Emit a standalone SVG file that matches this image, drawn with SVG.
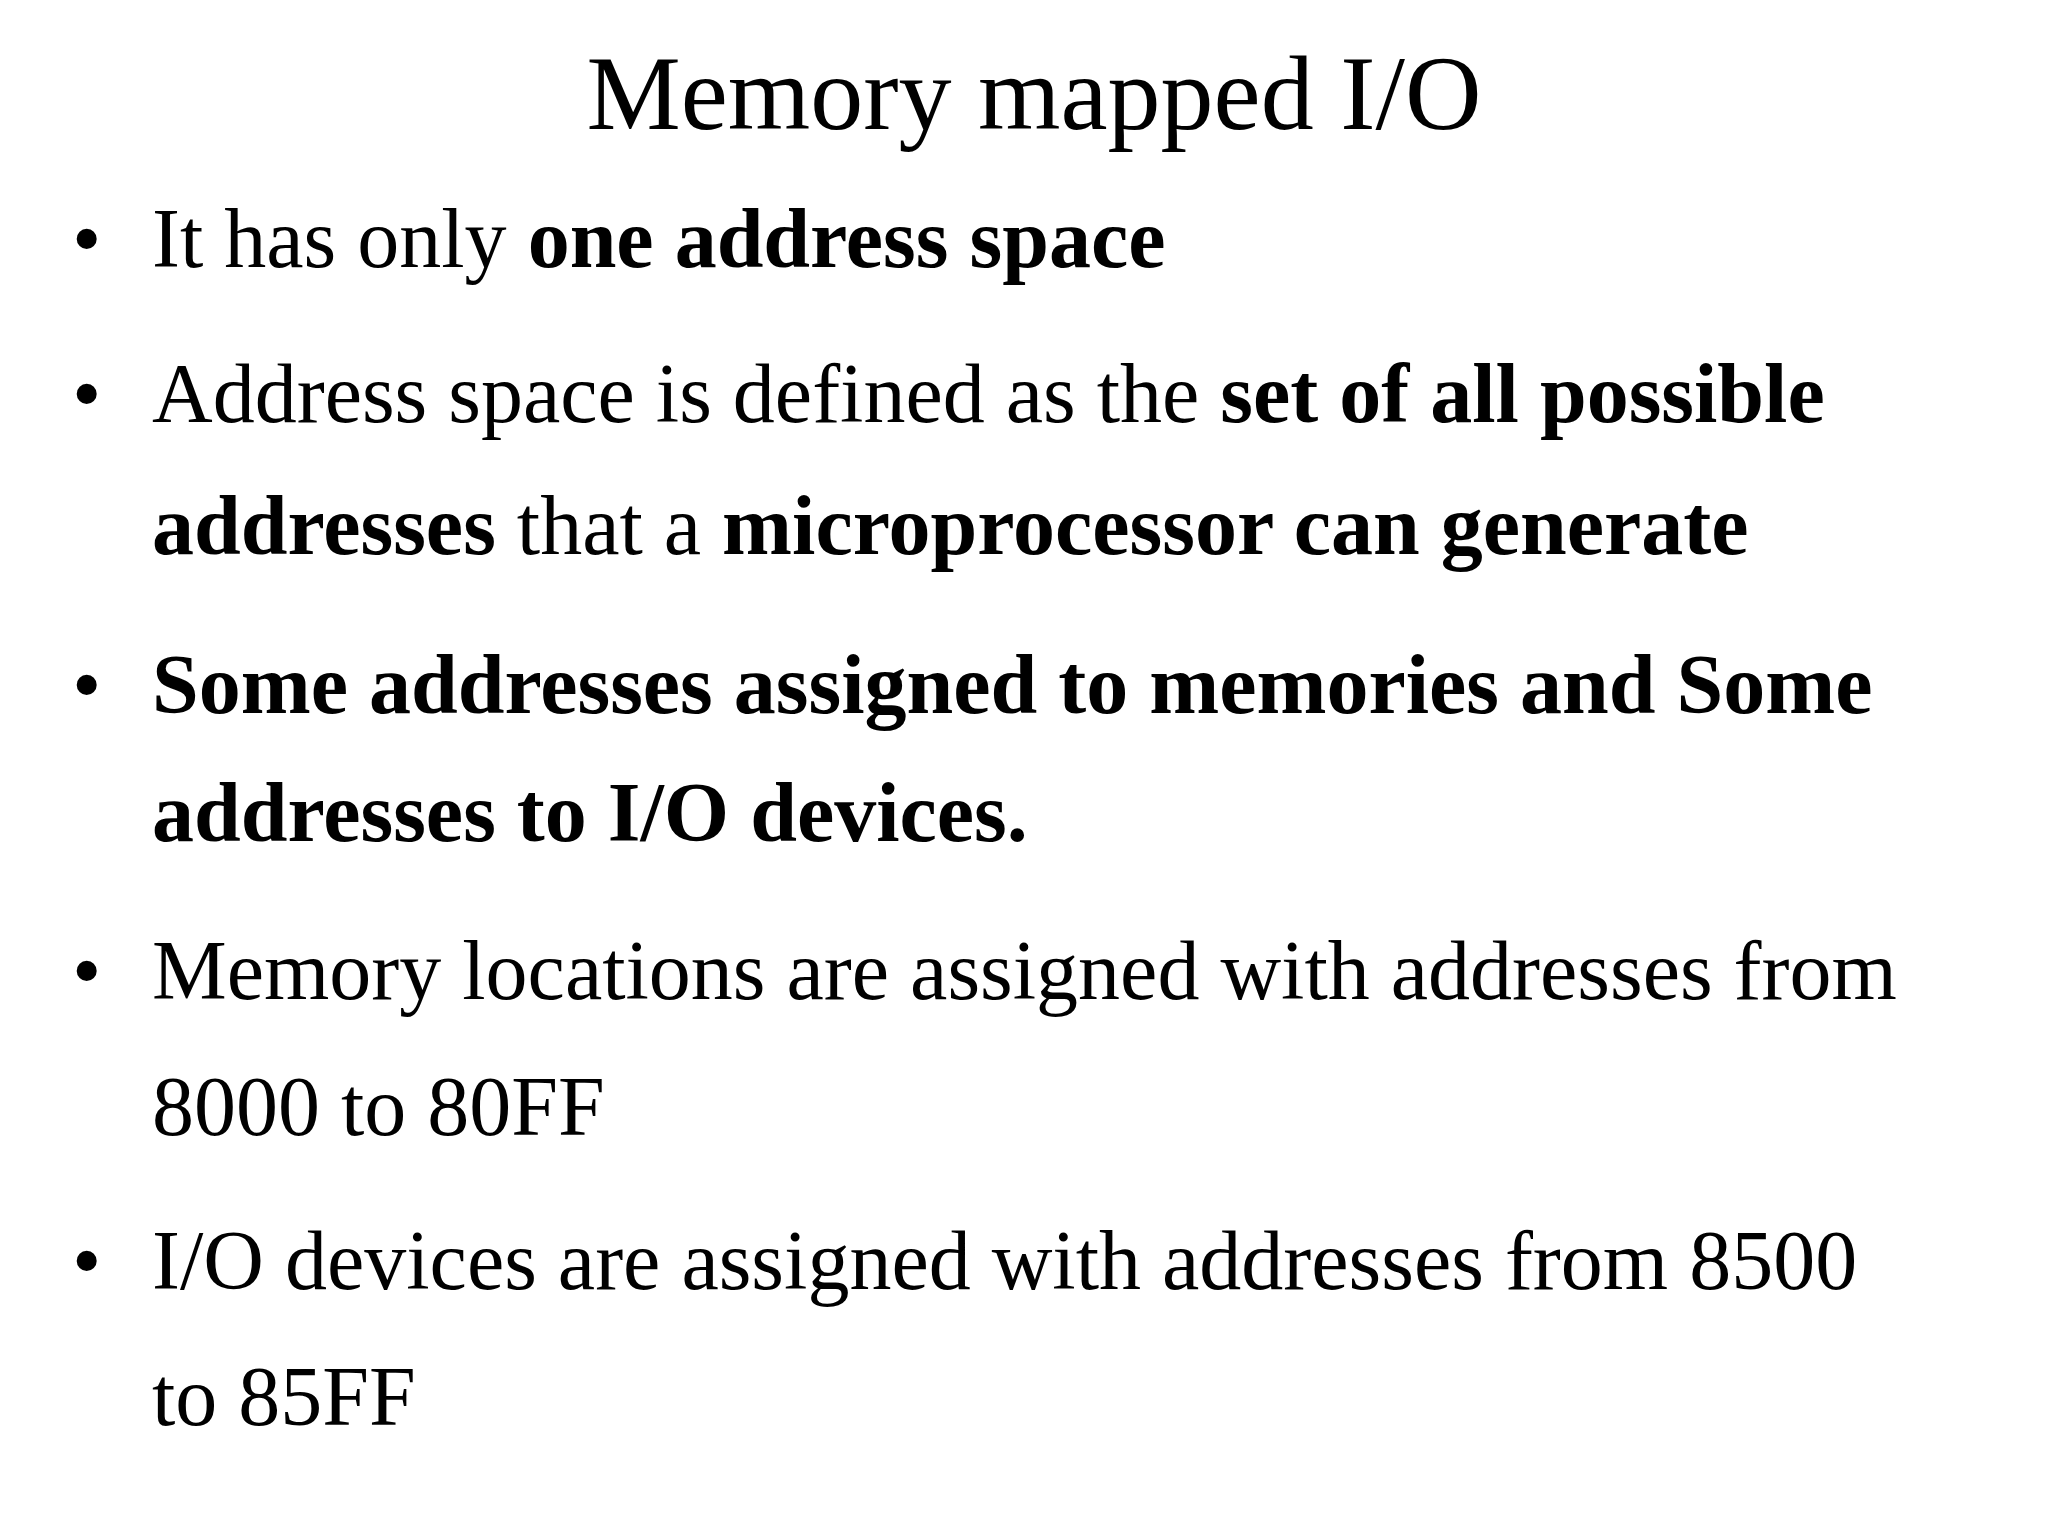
<svg xmlns="http://www.w3.org/2000/svg" width="2048" height="1536" viewBox="0 0 2048 1536">
<style>
text{font-family:"Liberation Serif","Times New Roman",serif;fill:#000}
.t{font-size:106px}
.b{font-size:84px}
.k{font-weight:bold}
</style>
<rect width="2048" height="1536" fill="#fff"/>
<g id="title"><text class="t" x="1034" y="129" text-anchor="middle">Memory mapped I/O</text></g>
<g id="bullets" class="b">
<text class="b" x="72" y="267">•</text>
<text class="b" x="152" y="267">It has only <tspan class="k">one address space</tspan></text>
<text class="b" x="72" y="422">•</text>
<text class="b" x="152" y="422">Address space is defined as the <tspan class="k">set of all possible</tspan></text>
<text class="b" x="152" y="554"><tspan class="k">addresses</tspan> that a <tspan class="k">microprocessor can generate</tspan></text>
<text class="b" x="72" y="713">•</text>
<text class="b k" x="152" y="713">Some addresses assigned to memories and Some</text>
<text class="b k" x="152" y="841">addresses to I/O devices.</text>
<text class="b" x="72" y="999">•</text>
<text class="b" x="152" y="999">Memory locations are assigned with addresses from</text>
<text class="b" x="152" y="1135">8000 to 80FF</text>
<text class="b" x="72" y="1289">•</text>
<text class="b" x="152" y="1289">I/O devices are assigned with addresses from 8500</text>
<text class="b" x="152" y="1425">to 85FF</text>
</g>
</svg>
